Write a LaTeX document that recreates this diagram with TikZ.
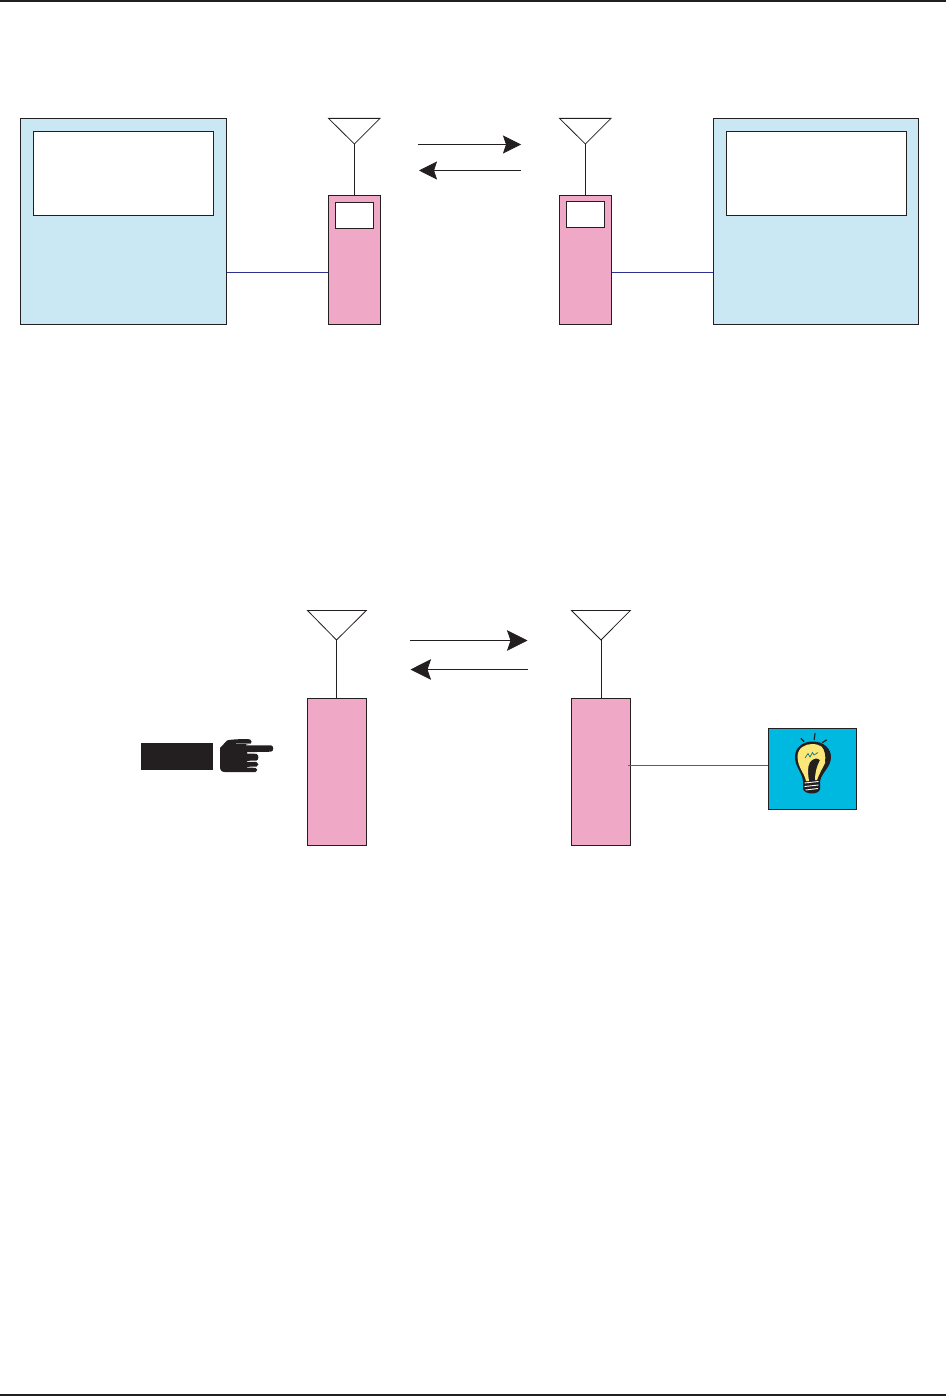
\documentclass[tikz,border=0pt]{standalone}
\definecolor{boxblue}{HTML}{C9E8F3}
\definecolor{pinkbox}{HTML}{EFA8C5}
\definecolor{ink}{HTML}{231F20}
\definecolor{wire}{HTML}{2E3192}
\definecolor{wiretwo}{HTML}{9E3A6E}
\definecolor{lampbg}{HTML}{00B9E0}
\definecolor{bulb}{HTML}{FBE878}
\usetikzlibrary{arrows.meta}
\tikzset{x=1pt,y=-1pt,
 hostbox/.style={draw=ink,line width=0.9pt,fill=boxblue},
 screenbox/.style={draw=ink,line width=0.9pt,fill=white},
 radiobox/.style={draw=ink,line width=0.9pt,fill=pinkbox},
 antenna/.style={draw=ink,line width=0.8pt,line join=miter},
 sig/.style={ink,line width=0.8pt,-{Stealth[length=18pt,width=18pt,inset=3pt]}},
 sigb/.style={ink,line width=0.8pt,-{Stealth[length=20.5pt,width=20.5pt,inset=3.5pt]}},
 rule/.style={ink,line width=2.2pt}}
\begin{document}
\begin{tikzpicture}
\useasboundingbox (0,0) rectangle (946,1396);
\draw[rule] (0,1) -- (946,1);
\draw[rule] (0,1395) -- (946,1395);
% top row
\path[hostbox] (20.5,118.5) rectangle (226.5,324);
\path[screenbox] (33.5,131.5) rectangle (213.5,215.5);
\path[hostbox] (713.3,118.5) rectangle (918.3,324);
\path[screenbox] (726.3,131.5) rectangle (906.5,215.5);
\coordinate (r1w) at (328.3,272); \coordinate (h1e) at (226.5,272);
\coordinate (r2e) at (611.7,272); \coordinate (h2w) at (713.3,272);
\draw[wire,line width=0.8pt] (h1e) -- (r1w);
\draw[wire,line width=0.8pt] (r2e) -- (h2w);
\path[radiobox] (328.3,195.4) rectangle (380.5,324.3);
\path[screenbox] (335.4,202.4) rectangle (373.4,228.4);
\path[radiobox] (559.4,195.4) rectangle (611.7,324.3);
\path[screenbox] (566.4,201.4) rectangle (604.6,227.4);
\draw[antenna] (328.5,118.4) -- (380,118.4) -- (354.4,144) -- cycle;
\draw[antenna] (354.4,144) -- (354.4,195.4);
\draw[antenna] (559.5,118.4) -- (611,118.4) -- (585.4,144) -- cycle;
\draw[antenna] (585.4,144) -- (585.4,195.4);
\coordinate (a1s) at (418,144.5); \coordinate (a1e) at (521,144.5);
\coordinate (a2s) at (521,170.5); \coordinate (a2e) at (419,170.5);
\draw[sig] (a1s) -- (a1e);
\draw[sig] (a2s) -- (a2e);
% bottom row
\path[radiobox] (307.4,698.4) rectangle (366.4,845.5);
\path[radiobox] (571.4,698.4) rectangle (630.4,845.5);
\draw[antenna] (307.5,610.5) -- (366.3,610.5) -- (336.5,640) -- cycle;
\draw[antenna] (336.5,640) -- (336.5,698.4);
\draw[antenna] (571.5,610.5) -- (630.3,610.5) -- (601,640) -- cycle;
\draw[antenna] (601,640) -- (601,698.4);
\coordinate (b1s) at (410,640.5); \coordinate (b1e) at (527.5,640.5);
\coordinate (b2s) at (528,669.5); \coordinate (b2e) at (410.5,669.5);
\draw[sigb] (b1s) -- (b1e);
\draw[sigb] (b2s) -- (b2e);
\draw[wiretwo,line width=0.7pt] (628,765.5) -- (768.5,765.5);
% lamp
\path[draw=ink,line width=1pt,fill=lampbg] (768.5,728.5) rectangle (856.5,809.5);
% bulb body
\fill[ink] (795,757) .. controls (795,747) and (803,741.5) .. (813,741.5)
  .. controls (824,741.5) and (831,749) .. (831,757)
  .. controls (831,767) and (822,772) .. (820,781)
  -- (820,789) .. controls (819,795) and (805,795) .. (803,789)
  -- (803,781) .. controls (802,772) and (795,767) .. (795,757) -- cycle;
% lit glass
\fill[bulb] (797.5,757) .. controls (797.5,748) and (805,744) .. (812,744)
  .. controls (820,744) and (826,748) .. (827,755)
  .. controls (827,762) and (822,768) .. (819,775)
  -- (817,780) -- (815,780) .. controls (815,772) and (817,766) .. (820,760)
  .. controls (817,757) and (812,759) .. (810,762)
  .. controls (807,767) and (808,775) .. (809,781)
  -- (806,781) .. controls (804,772) and (798,768) .. (797.5,757) -- cycle;
\fill[ink] (821,745.5) .. controls (826,748) and (829,753) .. (829,758)
  .. controls (828,762) and (826,763) .. (825,762)
  .. controls (826,756) and (825,750) .. (821,745.5) -- cycle;
\draw[lampbg!55!ink,line width=0.7pt] (805,758) -- (808,753.5) -- (810,757) -- (812.5,752.5) -- (814,755) -- (818,752.5);
\draw[white,line width=0.9pt] (804.5,783) -- (818.5,781.5) (804.5,786.5) -- (818.5,785) (805.5,790) -- (818,788.5);
\draw[ink,line width=1.2pt,line cap=round] (804,741.5) -- (801,738.5);
\draw[ink,line width=1.2pt,line cap=round] (814.2,739.5) -- (815,733.5);
\draw[ink,line width=1.2pt,line cap=round] (822.5,742.5) -- (826.5,740);
% pointing hand
\fill[ink] (141,743) rectangle (213,770);
\fill[ink] (220,748) -- (227,740.5) .. controls (232,739) and (245,739) .. (250,739.3)
  .. controls (252.5,740) and (252,743.5) .. (249,744) -- (246,744.5) -- (246,745.3)
  -- (271,745.3) .. controls (274,746) and (274,751) .. (271,751.7) -- (247,752.2)
  -- (247,753.5) -- (256.5,753.8) .. controls (259,755) and (259,760) .. (256.5,760.6)
  -- (247,760.8) -- (247,761.8) -- (256.5,762) .. controls (259,763) and (259,766) .. (256.5,766.6)
  -- (247,766.8) -- (247,767.6) -- (255.5,767.8) .. controls (258,768.5) and (258,771.5) .. (255.5,772)
  -- (225,772) .. controls (221,772) and (220,770) .. (220,766) -- cycle;
\draw[ink!60!white,line width=0.8pt] (236,743.5) -- (251,743.5);
\end{tikzpicture}
\end{document}
